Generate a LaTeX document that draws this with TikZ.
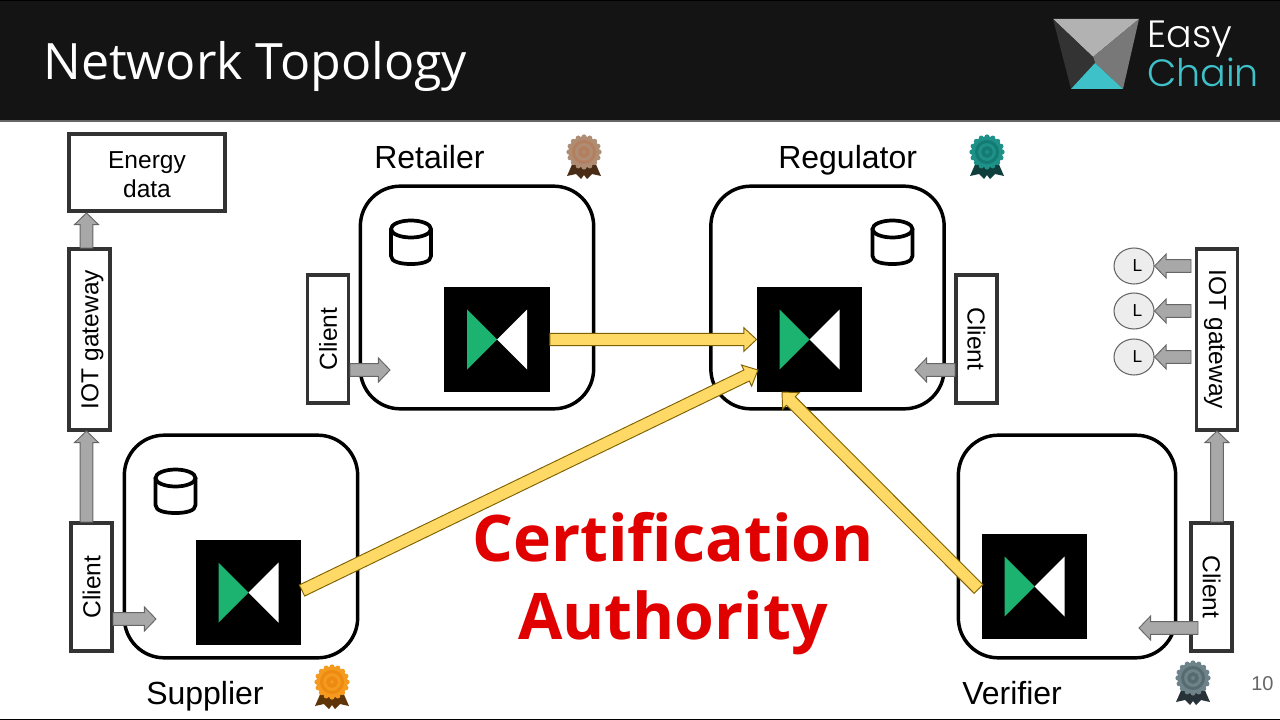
\documentclass[tikz,border=0pt]{standalone}
\usepackage{fontspec}
\setmainfont{Liberation Sans}
\newfontfamily\titlefont{Open Sans}
\newfontfamily\logofont[UprightFont=* Light]{Poppins}
\usetikzlibrary{calc,shapes.geometric}
\definecolor{headbg}{HTML}{141414}
\definecolor{boxedge}{HTML}{333333}
\definecolor{greyfill}{HTML}{A8A8A8}
\definecolor{greyedge}{HTML}{666666}
\definecolor{goldfill}{HTML}{FFD966}
\definecolor{goldedge}{HTML}{7F6000}
\definecolor{ledgergreen}{HTML}{1BB36F}
\definecolor{tealtext}{HTML}{3FC1C9}
\definecolor{certred}{HTML}{E00000}
\definecolor{bronzeA}{HTML}{AF8C74}\definecolor{bronzeB}{HTML}{B47F5F}\definecolor{bronzeC}{HTML}{4A2C16}
\definecolor{tealA}{HTML}{1D9088}\definecolor{tealB}{HTML}{147A73}\definecolor{tealC}{HTML}{0E3F3D}
\definecolor{orangeA}{HTML}{F39A1F}\definecolor{orangeB}{HTML}{EE8A10}\definecolor{orangeC}{HTML}{5F3508}
\definecolor{slateA}{HTML}{6E8389}\definecolor{slateB}{HTML}{566A70}\definecolor{slateC}{HTML}{263238}
\tikzset{
  x=0.75pt,y=-0.75pt,
  orgbox/.style={draw=black,line width=2.6pt,rounded corners=30pt,fill=white,minimum width=175pt,minimum height=167pt,inner sep=0pt},
  plainbox/.style={draw=boxedge,line width=2.6pt,fill=white,inner sep=0pt,align=center,font=\fontsize{18.4}{21.75}\selectfont},
  label text/.style={font=\fontsize{24}{28}\selectfont,text=black,inner sep=0pt,anchor=base west},
  ledgerbox/.style={fill=black,minimum width=79pt,minimum height=79pt,inner sep=0pt},
  lnode/.style={ellipse,draw=greyedge,line width=0.8pt,fill=black!7,minimum width=30pt,minimum height=27pt,inner sep=0pt,font=\fontsize{13}{15}\selectfont},
}
\newcommand{\nudge}[2]{\raisebox{#1}[\height][\depth]{#2}}
% block arrow between two points: from, to, shaft half width, head half width, head length, fill, edge
\newcommand{\blockarrow}[7]{%
  \draw[fill=#6,draw=#7,line width=0.7pt,line join=miter] let \p1=(#1),\p2=(#2),\n1={atan2(\y2-\y1,\x2-\x1)},\n2={veclen(\x2-\x1,\y2-\y1)} in
    [shift={(\p1)},rotate=\n1,x=1pt,y=1pt]
    (0,-#3) -- (\n2-#5,-#3) -- (\n2-#5,-#4) -- (\n2,0) -- (\n2-#5,#4) -- (\n2-#5,#3) -- (0,#3) -- cycle;
}
\newcommand{\greyarrow}[2]{\blockarrow{#1}{#2}{4.8}{9}{8.7}{greyfill}{greyedge}}
\newcommand{\goldarrow}[2]{\blockarrow{#1}{#2}{4.6}{8.8}{9.5}{goldfill}{goldedge}}
\newcommand{\ledger}[3]{%
  \node[ledgerbox] (#1) at (#2,#3) {};
  \fill[ledgergreen] ([shift={(-22.5pt,-22.5pt)}]#1.center) -- ([shift={(-22.5pt,22.5pt)}]#1.center) -- (#1.center) -- cycle;
  \fill[white] ([shift={(22.5pt,-22.5pt)}]#1.center) -- ([shift={(22.5pt,22.5pt)}]#1.center) -- (#1.center) -- cycle;
}
% database drum at centre x,y
\newcommand{\dbdrum}[2]{%
  \begin{scope}[shift={(#1,#2)},line width=2.8pt,draw=black]
    \draw[fill=white] (-20,-14) -- (-20,13) .. controls (-20,19) and (-10,21) .. (0,21) .. controls (10,21) and (20,19) .. (20,13) -- (20,-14);
    \draw[fill=white] (0,-14) ellipse[x radius=20,y radius=8.5];
  \end{scope}
}
% rosette: x, y of disc centre, disc colour, ring colour, ribbon colour
\newcommand{\rosette}[5]{%
  \begin{scope}[shift={(#1,#2)}]
    \fill[#5] (-10,8) -- (-17,24) -- (-8,22) -- (-3,27) -- (0,23) -- (3,27) -- (8,22) -- (17,24) -- (10,8) -- cycle;
    \foreach \a in {0,22.5,...,337.5}{\fill[#3] (\a:15) circle[radius=2.6];}
    \fill[#3] (0,0) circle[radius=15.5];
    \draw[#4,line width=2.2pt] (0,0) circle[radius=10.5];
    \draw[#4,line width=2.6pt] (0,0) circle[radius=4];
  \end{scope}
}
\begin{document}
\begin{tikzpicture}
\useasboundingbox (0,0) rectangle (1280,720);
\fill[white] (0,0) rectangle (1280,720);
% header
\fill[headbg] (0,0) rectangle (1280,120);
\fill[black] (0,0) rectangle (1280,1);
\fill[greyedge] (0,120) rectangle (1280,122);
\fill[black] (0,718.5) rectangle (1280,720);
\node[font=\titlefont\fontsize{37.6}{42}\selectfont,text=white,inner sep=0pt,anchor=base west] (title) at (43,79.5) {Network Topology};
% logo
\fill[black!30] (1053,19) -- (1139,19) -- (1093,57) -- cycle;
\fill[black!53] (1139,19) -- (1123,89) -- (1095,63) -- (1093,57) -- cycle;
\fill[black!80] (1053,19) -- (1093,57) -- (1095,63) -- (1071,89) -- cycle;
\fill[tealtext] (1071,89) -- (1123,89) -- (1095,63) -- cycle;
\node[font=\logofont\fontsize{28.5}{30}\selectfont,text=white,inner sep=0pt,anchor=base west] (easy) at (1147,47.5) {Easy};
\node[font=\logofont\fontsize{28.5}{30}\selectfont,text=tealtext,inner sep=0pt,anchor=base west] (chain) at (1147,87) {Chain};
% organisations
\node[orgbox] (retailerbox) at (477,297.5) {};
\node[orgbox] (regulatorbox) at (827.5,297.5) {};
\node[orgbox] (supplierbox) at (241,546.5) {};
\node[orgbox,minimum width=163pt] (verifierbox) at (1067,546.5) {};
% org labels
\node[label text] (retailer) at (374,169) {Retailer};
\node[label text] (regulator) at (778,169) {Regulator};
\node[label text] (supplier) at (146,704) {Supplier};
\node[label text] (verifier) at (962,704) {Verifier};
% databases
\dbdrum{411}{243}
\dbdrum{892.5}{243}
\dbdrum{175.5}{492}
% ledgers
\ledger{retledger}{497}{339.5}
\ledger{regledger}{809.5}{339.5}
\ledger{supledger}{248.5}{592.5}
\ledger{verledger}{1034.5}{586.5}
% plain boxes
\node[plainbox,minimum width=117pt,minimum height=58pt] (energy) at (147,172.5) {};
\node[inner sep=0pt,align=center,font=\fontsize{18.4}{21.75}\selectfont] (energytext) at (147,174.5) {Energy\\data};
\node[plainbox,minimum width=31pt,minimum height=136pt] (iotl) at (89.5,339.5) {\rotatebox{90}{\nudge{-2.2pt}{IOT gateway}}};
\node[plainbox,minimum width=31pt,minimum height=136pt] (iotr) at (1217,339.5) {\rotatebox{-90}{\nudge{-1.5pt}{IOT gateway}}};
\node[plainbox,minimum width=31pt,minimum height=96pt] (clsup) at (91.5,587) {\rotatebox{90}{Client}};
\node[plainbox,minimum width=31pt,minimum height=96pt] (clret) at (328,339) {\rotatebox{90}{Client}};
\node[plainbox,minimum width=31pt,minimum height=96pt] (clreg) at (976.5,339) {\rotatebox{-90}{Client}};
\node[plainbox,minimum width=31pt,minimum height=96pt] (clver) at (1211.5,587) {\rotatebox{-90}{Client}};
% leaf nodes
\node[lnode] (l1) at (1134,266) {\hspace*{5pt}L};
\node[lnode] (l2) at (1134,311) {\hspace*{5pt}L};
\node[lnode] (l3) at (1134,357) {\hspace*{5pt}L};
% free ends
\coordinate (suptip) at (113,619);
\coordinate (supend) at (156,619);
\coordinate (retstart) at (350,370);
\coordinate (retend) at (390,370);
\coordinate (regstart) at (955,370);
\coordinate (regend) at (915,370);
\coordinate (verstart) at (1198,628);
\coordinate (verend) at (1139,628);
\coordinate (iotlup) at (86.5,248);
\coordinate (enerdown) at (86.5,213);
\coordinate (clsupup) at (86.5,522);
\coordinate (iotldown) at (86.5,431);
\coordinate (clverup) at (1217,522);
\coordinate (iotrdown) at (1217,431);
\coordinate (a1) at (1191,266);
\coordinate (a2) at (1191,311);
\coordinate (a3) at (1191,357);
\coordinate (goldsupstart) at (302,590.5);
\coordinate (goldsupend) at (758,370);
\coordinate (goldverstart) at (978.5,589);
\coordinate (goldverend) at (782,392);
% grey connectors
\greyarrow{suptip}{supend}
\greyarrow{retstart}{retend}
\greyarrow{regstart}{regend}
\greyarrow{verstart}{verend}
\greyarrow{iotlup}{enerdown}
\greyarrow{clsupup}{iotldown}
\greyarrow{clverup}{iotrdown}
\greyarrow{a1}{l1.east}
\greyarrow{a2}{l2.east}
\greyarrow{a3}{l3.east}
% gold connectors
\goldarrow{retledger.east}{regledger.west}
\goldarrow{goldsupstart}{goldsupend}
\goldarrow{goldverstart}{goldverend}
% title text
\node[font=\titlefont\bfseries\fontsize{48.2}{58.5}\selectfont,text=certred,align=center,inner sep=0pt] (ca) at (673,584) {Certification\\Authority};
% rosettes
\rosette{584}{152}{bronzeA}{bronzeB}{bronzeC}
\rosette{987}{152}{tealA}{tealB}{tealC}
\rosette{332}{682}{orangeA}{orangeB}{orangeC}
\rosette{1193}{678}{slateA}{slateB}{slateC}
\node[font=\fontsize{15}{18}\selectfont,text=greyedge,inner sep=0pt,anchor=base west] (pageno) at (1251,690) {10};
\end{tikzpicture}
\end{document}
